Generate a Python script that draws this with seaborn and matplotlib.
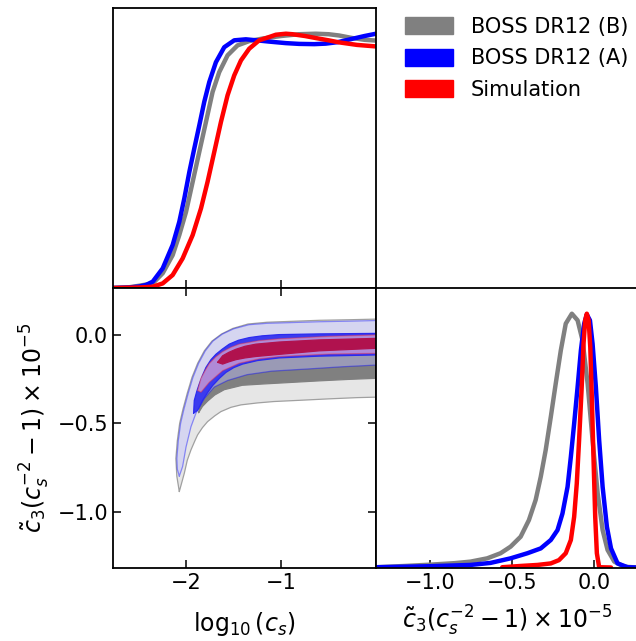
import matplotlib
matplotlib.use("Agg")
import matplotlib.pyplot as plt
from matplotlib.patches import Patch
import seaborn as sns
import pandas as pd

# --- 1D marginal: log10(c_s) (normalised to peak 1) ---
cs_b_x = [-2.776, -2.6, -2.495, -2.354, -2.249, -2.144, -2.074, -2.003, -1.933, -1.863,
          -1.793, -1.723, -1.653, -1.565, -1.460, -1.337, -1.196, -1.0, -0.811, -0.635,
          -0.5, -0.389, -0.25, -0.12, 0.0]
cs_b_y = [0.0, 0.003, 0.009, 0.018, 0.058, 0.129, 0.208, 0.299, 0.417, 0.535,
          0.652, 0.770, 0.848, 0.914, 0.953, 0.970, 0.980, 0.990, 0.997, 0.999,
          0.997, 0.992, 0.982, 0.975, 0.972]
cs_a_x = [-2.776, -2.6, -2.495, -2.424, -2.354, -2.249, -2.144, -2.074, -2.021, -1.968,
          -1.916, -1.863, -1.811, -1.758, -1.688, -1.6, -1.495, -1.372, -1.232, -1.126,
          -0.95, -0.811, -0.65, -0.530, -0.4, -0.249, -0.12, 0.0]
cs_a_y = [0.0, 0.002, 0.006, 0.012, 0.025, 0.077, 0.169, 0.260, 0.352, 0.456,
          0.548, 0.639, 0.731, 0.809, 0.887, 0.946, 0.973, 0.977, 0.972, 0.968,
          0.962, 0.959, 0.958, 0.960, 0.966, 0.979, 0.99, 0.999]
cs_s_x = [-2.776, -2.5, -2.354, -2.249, -2.144, -2.039, -1.933, -1.845, -1.776, -1.705,
          -1.635, -1.565, -1.495, -1.424, -1.337, -1.232, -1.126, -1.056, -0.95, -0.881,
          -0.75, -0.635, -0.5, -0.389, -0.2, 0.0]
cs_s_y = [0.0, 0.002, 0.005, 0.018, 0.051, 0.116, 0.208, 0.313, 0.417, 0.535,
          0.652, 0.757, 0.835, 0.894, 0.940, 0.973, 0.986, 0.995, 0.999, 0.997,
          0.99, 0.982, 0.973, 0.965, 0.955, 0.949]

# --- 1D marginal: c3 (c_s^-2 - 1) x 1e-5 ---
c3_b_x = [-1.325, -1.15, -1.0, -0.85, -0.753, -0.651, -0.570, -0.509, -0.448, -0.398,
          -0.357, -0.326, -0.296, -0.265, -0.235, -0.204, -0.174, -0.137, -0.102, -0.072,
          -0.041, -0.011, 0.020, 0.050, 0.080, 0.121, 0.182, 0.259]
c3_b_y = [0.003, 0.008, 0.013, 0.019, 0.025, 0.038, 0.058, 0.084, 0.123, 0.188,
          0.267, 0.358, 0.463, 0.593, 0.724, 0.855, 0.960, 0.999, 0.973, 0.894,
          0.724, 0.502, 0.293, 0.149, 0.071, 0.025, 0.005, 0.002]
c3_a_x = [-1.325, -1.0, -0.753, -0.631, -0.509, -0.407, -0.326, -0.265, -0.224, -0.194,
          -0.163, -0.143, -0.123, -0.102, -0.082, -0.062, -0.046, -0.027, -0.011, 0.009,
          0.029, 0.050, 0.076, 0.101, 0.141, 0.202, 0.259]
c3_a_y = [0.003, 0.007, 0.012, 0.02, 0.038, 0.058, 0.077, 0.110, 0.149, 0.214,
          0.319, 0.437, 0.567, 0.711, 0.855, 0.960, 0.996, 0.973, 0.881, 0.711,
          0.502, 0.319, 0.162, 0.077, 0.018, 0.003, 0.002]
c3_s_x = [-0.56, -0.448, -0.346, -0.265, -0.215, -0.174, -0.143, -0.123, -0.107, -0.093,
          -0.078, -0.066, -0.056, -0.046, -0.035, -0.025, -0.015, -0.005, 0.005, 0.015,
          0.029, 0.101]
c3_s_y = [0.003, 0.008, 0.012, 0.018, 0.031, 0.058, 0.110, 0.201, 0.332, 0.502,
          0.698, 0.881, 0.973, 0.999, 0.973, 0.868, 0.659, 0.424, 0.201, 0.058,
          0.003, 0.002]

# --- 2D contours (upper edge / lower edge, from left tip to right end) ---
gray95_up_x = [-2.074, -2.10, -2.11, -2.095, -2.07, -2.035, -1.99, -1.94, -1.88, -1.81,
               -1.73, -1.63, -1.51, -1.35, -1.15, -0.9, -0.6, -0.3, 0.02]
gray95_up_y = [-0.887, -0.80, -0.70, -0.60, -0.50, -0.42, -0.33, -0.24, -0.16, -0.09,
               -0.035, 0.005, 0.037, 0.062, 0.072, 0.077, 0.083, 0.086, 0.09]
gray95_lo_x = [-2.074, -2.05, -2.021, -1.99, -1.951, -1.91, -1.881, -1.83, -1.776, -1.70,
               -1.635, -1.53, -1.424, -1.25, -1.074, -0.8, -0.5, -0.2, 0.02]
gray95_lo_y = [-0.887, -0.84, -0.783, -0.71, -0.651, -0.60, -0.566, -0.525, -0.491, -0.458,
               -0.434, -0.41, -0.396, -0.385, -0.377, -0.37, -0.362, -0.355, -0.352]
gray68_up_x = [-1.87, -1.85, -1.80, -1.72, -1.60, -1.45, -1.2, -0.8, 0.02]
gray68_up_y = [-0.44, -0.39, -0.31, -0.24, -0.18, -0.14, -0.11, -0.095, -0.085]
gray68_lo_x = [-1.87, -1.83, -1.776, -1.70, -1.60, -1.41, -1.2, -1.0, -0.6, -0.3, 0.02]
gray68_lo_y = [-0.44, -0.405, -0.375, -0.34, -0.31, -0.285, -0.278, -0.272, -0.26, -0.252, -0.245]

blue95_up_x = [-2.074, -2.095, -2.10, -2.085, -2.06, -2.025, -1.98, -1.93, -1.87, -1.80,
               -1.72, -1.62, -1.50, -1.34, -1.15, -0.9, -0.6, -0.3, 0.02]
blue95_up_y = [-0.80, -0.76, -0.70, -0.60, -0.50, -0.42, -0.33, -0.24, -0.16, -0.09,
               -0.035, 0.005, 0.035, 0.058, 0.066, 0.07, 0.075, 0.078, 0.082]
blue95_lo_x = [-2.074, -2.039, -2.003, -1.951, -1.898, -1.811, -1.705, -1.565, -1.36, -1.1,
               -0.7, -0.35, 0.02]
blue95_lo_y = [-0.80, -0.745, -0.635, -0.52, -0.443, -0.36, -0.295, -0.258, -0.225, -0.205,
               -0.192, -0.18, -0.17]
blue68_up_x = [-1.923, -1.916, -1.89, -1.863, -1.83, -1.793, -1.74, -1.687, -1.62, -1.547,
               -1.45, -1.337, -1.2, -1.021, -0.6, 0.02]
blue68_up_y = [-0.443, -0.371, -0.32, -0.277, -0.23, -0.184, -0.14, -0.109, -0.08, -0.052,
               -0.03, -0.015, -0.005, 0.002, 0.006, 0.009]
blue68_lo_x = [-1.923, -1.881, -1.828, -1.78, -1.723, -1.65, -1.582, -1.5, -1.407, -1.25,
               -1.021, -0.6, 0.02]
blue68_lo_y = [-0.443, -0.427, -0.371, -0.33, -0.287, -0.245, -0.212, -0.185, -0.165, -0.145,
               -0.13, -0.12, -0.113]

red95_up_x = [-1.881, -1.845, -1.80, -1.758, -1.69, -1.617, -1.53, -1.442, -1.232, -1.021,
              -0.5, 0.02]
red95_up_y = [-0.315, -0.245, -0.20, -0.162, -0.125, -0.095, -0.07, -0.052, -0.032, -0.022,
              -0.008, 0.0]
red95_lo_x = [-1.881, -1.845, -1.758, -1.617, -1.442, -1.232, -1.021, -0.5, 0.02]
red95_lo_y = [-0.315, -0.324, -0.268, -0.202, -0.160, -0.135, -0.122, -0.108, -0.104]
red68_up_x = [-1.67, -1.617, -1.55, -1.477, -1.38, -1.266, -1.021, -0.6, 0.02]
red68_up_y = [-0.155, -0.118, -0.098, -0.081, -0.064, -0.052, -0.040, -0.028, -0.019]
red68_lo_x = [-1.67, -1.617, -1.55, -1.477, -1.38, -1.266, -1.021, -0.6, 0.02]
red68_lo_y = [-0.155, -0.165, -0.152, -0.140, -0.130, -0.122, -0.110, -0.09, -0.075]

labels = ["BOSS DR12 (B)", "BOSS DR12 (A)", "Simulation"]
colors = ["#808080", "#0000ff", "#ff0000"]

sns.set_style("ticks")
plt.rcParams["font.family"] = ["DejaVu Sans"]
plt.rcParams["mathtext.fontset"] = "dejavusans"
for k in ["text.color", "axes.labelcolor", "xtick.color", "ytick.color", "axes.edgecolor"]:
    plt.rcParams[k] = "black"

fig = plt.figure(figsize=(6.36, 6.41), dpi=100)
W, H = 636, 641
ax_top = fig.add_axes([113 / W, 1 - 288 / H, 263 / W, 280 / H])
ax_2d = fig.add_axes([113 / W, 1 - 568 / H, 263 / W, 280 / H])
ax_rt = fig.add_axes([376 / W, 1 - 568 / H, 262 / W, 280 / H])

def long_df(xs, ys):
    parts = []
    for lab, x, y in zip(labels, xs, ys):
        parts.append(pd.DataFrame({"x": x, "y": y, "set": lab}))
    return pd.concat(parts, ignore_index=True)

pal = dict(zip(labels, colors))
df_cs = long_df([cs_b_x, cs_a_x, cs_s_x], [cs_b_y, cs_a_y, cs_s_y])
sns.lineplot(data=df_cs, x="x", y="y", hue="set", hue_order=labels, palette=pal,
             sort=False, estimator=None, lw=3.2, legend=False, ax=ax_top)
df_c3 = long_df([c3_b_x, c3_a_x, c3_s_x], [c3_b_y, c3_a_y, c3_s_y])
sns.lineplot(data=df_c3, x="x", y="y", hue="set", hue_order=labels, palette=pal,
             sort=False, estimator=None, lw=3.2, legend=False, ax=ax_rt)

def band(ax, ux, uy, lx, ly, face, edge, alpha=1.0, ealpha=1.0, z=1):
    px = list(ux) + list(lx)[::-1]
    py = list(uy) + list(ly)[::-1]
    ax.fill(px, py, color=face, alpha=alpha, lw=0, zorder=z)
    ax.plot(px + [px[0]], py + [py[0]], color=edge, alpha=ealpha, lw=0.9, zorder=z)

band(ax_2d, gray95_up_x, gray95_up_y, gray95_lo_x, gray95_lo_y, "#e6e6e6", "#a0a0a0", z=1)
band(ax_2d, gray68_up_x, gray68_up_y, gray68_lo_x, gray68_lo_y, "#808080", "#808080", z=2)
band(ax_2d, blue95_up_x, blue95_up_y, blue95_lo_x, blue95_lo_y, (0.75, 0.75, 1.0), "#0000ff",
     alpha=0.42, ealpha=0.4, z=3)
band(ax_2d, blue68_up_x, blue68_up_y, blue68_lo_x, blue68_lo_y, "#3b3bef", "#2a2af0", z=4)
band(ax_2d, red95_up_x, red95_up_y, red95_lo_x, red95_lo_y, (1.0, 0.75, 0.78), "#ff3030",
     alpha=0.6, ealpha=0.4, z=5)
band(ax_2d, red68_up_x, red68_up_y, red68_lo_x, red68_lo_y, "#b0124e", "#b0124e", z=6)

xlim_cs = (-2.773, 0.0)
ylim_c3 = (-1.32, 0.266)
ax_top.set_xlim(xlim_cs)
ax_top.set_ylim(0, 1.1)
ax_2d.set_xlim(xlim_cs)
ax_2d.set_ylim(ylim_c3)
ax_rt.set_xlim(-1.327, 0.265)
ax_rt.set_ylim(0, 1.1)

for ax in (ax_top, ax_2d, ax_rt):
    for s in ax.spines.values():
        s.set_linewidth(1.3)
        s.set_color("black")
    ax.set_xlabel("")
    ax.set_ylabel("")

ax_top.set_xticks([-2, -1])
ax_top.set_xticklabels([])
ax_top.set_yticks([])
ax_top.tick_params(axis="x", direction="in", length=6, width=1.1, top=False, bottom=True)

ax_2d.set_xticks([-2, -1])
ax_2d.set_yticks([0.0, -0.5, -1.0])
ax_2d.tick_params(direction="in", length=6, width=1.1, top=True, right=True, labelsize=15)

ax_rt.set_xticks([-1.0, -0.5, 0.0])
ax_rt.set_yticks([])
ax_rt.spines["right"].set_visible(False)
ax_rt.tick_params(axis="x", direction="in", length=6, width=1.1, labelsize=15)

lab_c3 = r"$\tilde{c}_3(c_s^{-2}-1)\times10^{-5}$"
ax_2d.set_xlabel(r"$\log_{10}(c_s)$", fontsize=17, labelpad=12)
ax_2d.set_ylabel(lab_c3, fontsize=17, labelpad=4)
ax_rt.set_xlabel(lab_c3, fontsize=17, labelpad=8)

handles = [Patch(facecolor=c, edgecolor=c, label=l) for l, c in zip(labels, colors)]
fig.legend(handles=handles, loc="upper left", bbox_to_anchor=(405 / W, 1 - 17 / H),
           frameon=False, fontsize=15, handlelength=2.3, handleheight=0.9,
           handletextpad=0.85, labelspacing=0.55, borderpad=0, borderaxespad=0)

fig.savefig("out.png", dpi=100)
